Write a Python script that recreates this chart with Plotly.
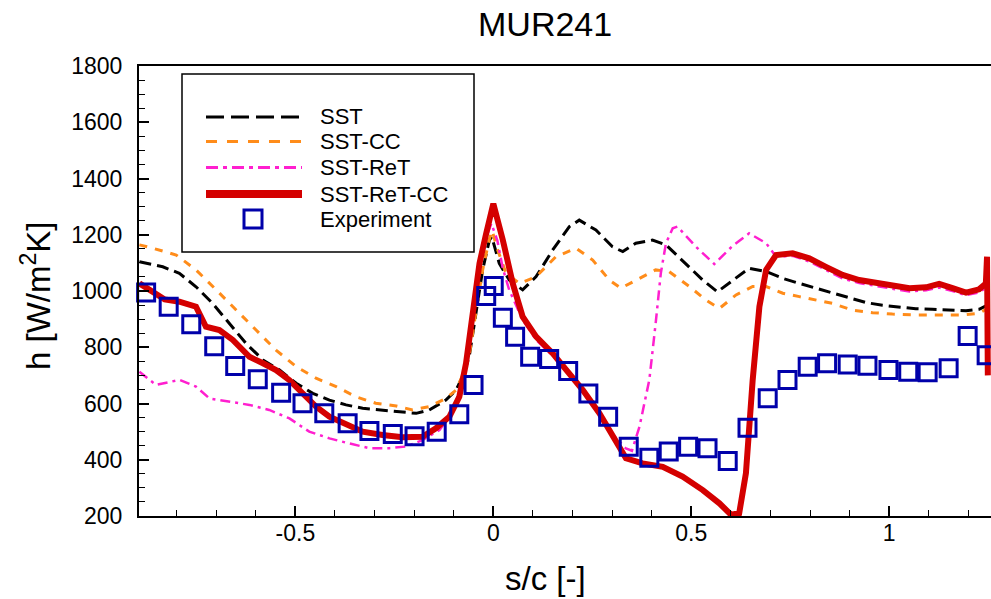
import plotly.graph_objects as go

# ---- data: heat transfer coefficient along the blade surface ----
sst_x = [-0.894, -0.835, -0.793, -0.751, -0.709, -0.667, -0.625, -0.582, -0.540, -0.498,
         -0.456, -0.414, -0.372, -0.330, -0.288, -0.245, -0.195, -0.162, -0.120, -0.094,
         -0.078, -0.061, -0.044, -0.027, -0.010, -0.004, 0.015, 0.040, 0.074, 0.108,
         0.150, 0.192, 0.217, 0.259, 0.301, 0.327, 0.360, 0.402, 0.436, 0.486,
         0.529, 0.566, 0.604, 0.646, 0.689, 0.731, 0.773, 0.815, 0.857, 0.899,
         0.941, 0.983, 1.025, 1.067, 1.109, 1.152, 1.194, 1.227, 1.248]
sst_y = [1104, 1086, 1063, 1015, 956, 885, 814, 755, 719, 672,
         636, 612, 595, 583, 577, 571, 565, 577, 612, 648,
         695, 766, 921, 1075, 1181, 1193, 1098, 1039, 1004, 1051,
         1146, 1229, 1252, 1217, 1157, 1140, 1170, 1181, 1164, 1098,
         1039, 997, 1036, 1081, 1069, 1045, 1027, 1010, 992, 974,
         959, 949, 942, 937, 935, 932, 930, 935, 950]

sstcc_x = [-0.894, -0.860, -0.801, -0.751, -0.700, -0.650, -0.599, -0.549, -0.498, -0.448,
           -0.397, -0.347, -0.297, -0.245, -0.204, -0.162, -0.120, -0.094, -0.078, -0.061,
           -0.044, -0.027, -0.010, -0.003, 0.010, 0.032, 0.066, 0.108, 0.158, 0.209,
           0.251, 0.293, 0.322, 0.360, 0.410, 0.444, 0.495, 0.537, 0.571, 0.613,
           0.655, 0.689, 0.731, 0.773, 0.815, 0.857, 0.907, 0.958, 1.008, 1.067,
           1.126, 1.185, 1.227, 1.248]
sstcc_y = [1164, 1152, 1128, 1075, 1004, 932, 861, 790, 731, 690,
           660, 624, 601, 591, 577, 589, 618, 648, 700, 770,
           925, 1075, 1185, 1215, 1150, 1063, 1027, 1051, 1122, 1152,
           1110, 1039, 1010, 1039, 1075, 1069, 1016, 968, 938, 986,
           1016, 1016, 992, 980, 968, 956, 932, 923, 918, 915,
           915, 915, 921, 938]

sstret_x = [-0.894, -0.852, -0.793, -0.751, -0.717, -0.667, -0.616, -0.566, -0.515, -0.465,
            -0.414, -0.364, -0.313, -0.263, -0.220, -0.179, -0.136, -0.111, -0.090, -0.069,
            -0.052, -0.035, -0.018, -0.005, 0.010, 0.024, 0.040, 0.074, 0.108, 0.150,
            0.184, 0.226, 0.268, 0.301, 0.335, 0.350, 0.369, 0.394, 0.410, 0.423,
            0.436, 0.453, 0.465, 0.512, 0.558, 0.604, 0.646, 0.689, 0.714, 0.756,
            0.798, 0.840, 0.882, 0.924, 0.966, 1.008, 1.051, 1.093, 1.126, 1.160,
            1.194, 1.227, 1.248]
sstret_y = [713, 666, 684, 660, 618, 606, 595, 577, 547, 500,
            476, 458, 441, 441, 447, 470, 506, 553, 624, 740,
            910, 1080, 1190, 1240, 1180, 1080, 1004, 897, 826, 770,
            715, 645, 562, 490, 440, 432, 517, 684, 885, 1063,
            1170, 1223, 1229, 1157, 1096, 1160, 1205, 1170, 1122, 1125,
            1105, 1075, 1045, 1028, 1018, 1010, 998, 1003, 1012, 1000,
            985, 995, 1015]

sstretcc_x = [-0.894, -0.860, -0.830, -0.793, -0.751, -0.726, -0.692, -0.658, -0.616, -0.582,
              -0.549, -0.515, -0.482, -0.448, -0.414, -0.372, -0.330, -0.280, -0.229, -0.179,
              -0.145, -0.111, -0.086, -0.069, -0.052, -0.035, -0.018, 0.000, 0.024, 0.049,
              0.074, 0.108, 0.150, 0.184, 0.226, 0.268, 0.301, 0.335, 0.377, 0.428,
              0.478, 0.529, 0.571, 0.600, 0.621, 0.638, 0.655, 0.672, 0.689, 0.714,
              0.756, 0.798, 0.840, 0.882, 0.924, 0.966, 1.008, 1.051, 1.093, 1.126,
              1.160, 1.194, 1.227, 1.244, 1.247, 1.249]
sstretcc_y = [1027, 997, 970, 962, 944, 873, 861, 826, 766, 743,
              719, 683, 636, 589, 553, 524, 500, 488, 480, 482,
              512, 553, 624, 743, 921, 1098, 1205, 1310, 1181, 1027,
              909, 838, 778, 719, 648, 565, 482, 405, 387, 375,
              340, 292, 245, 205, 210, 352, 683, 944, 1075, 1128,
              1134, 1116, 1086, 1057, 1039, 1030, 1021, 1010, 1013, 1025,
              1010, 994, 1006, 1027, 1122, 700]

exp_x = [-0.877, -0.820, -0.763, -0.705, -0.652, -0.595, -0.536, -0.482, -0.427, -0.368,
         -0.313, -0.254, -0.199, -0.143, -0.086, -0.050, -0.018, 0.001, 0.024, 0.055,
         0.093, 0.141, 0.189, 0.240, 0.290, 0.342, 0.394, 0.443, 0.492, 0.541,
         0.592, 0.642, 0.693, 0.743, 0.794, 0.843, 0.895, 0.945, 0.998, 1.048,
         1.097, 1.150, 1.198, 1.246]
exp_y = [995, 944, 882, 804, 733, 686, 638, 601, 565, 530,
         502, 492, 484, 500, 562, 666, 982, 1018, 905, 837,
         766, 758, 716, 636, 553, 446, 407, 429, 446, 441,
         396, 514, 619, 684, 731, 743, 739, 734, 719, 713,
         711, 725, 840, 772]

series_names = ["SST", "SST-CC", "SST-ReT", "SST-ReT-CC", "Experiment"]
x_tickvals = [-0.5, 0, 0.5, 1]
x_ticktext = ["-0.5", "0", "0.5", "1"]
y_tickvals = [200, 400, 600, 800, 1000, 1200, 1400, 1600, 1800]

# ---- styles ----
FONT = "Liberation Sans, Arial, sans-serif"
C_SST = "#000000"
C_CC = "#ff8c1a"
C_RET = "#ff1fcf"
C_RETCC = "#d40000"
C_EXP = "#0000aa"
DASH_SST = "12px,6px"
DASH_CC = "8px,8px"
DASH_RET = "10px,5px,3px,5px"

fig = go.Figure()
fig.add_trace(go.Scatter(x=sst_x, y=sst_y, mode="lines", name=series_names[0],
                         line=dict(color=C_SST, width=3, dash=DASH_SST)))
fig.add_trace(go.Scatter(x=sstcc_x, y=sstcc_y, mode="lines", name=series_names[1],
                         line=dict(color=C_CC, width=3, dash=DASH_CC)))
fig.add_trace(go.Scatter(x=sstret_x, y=sstret_y, mode="lines", name=series_names[2],
                         line=dict(color=C_RET, width=2.5, dash=DASH_RET)))
fig.add_trace(go.Scatter(x=sstretcc_x, y=sstretcc_y, mode="lines", name=series_names[3],
                         line=dict(color=C_RETCC, width=6)))
fig.add_trace(go.Scatter(x=exp_x, y=exp_y, mode="markers", name=series_names[4],
                         cliponaxis=False,
                         marker=dict(symbol="square-open", size=17, color=C_EXP,
                                     line=dict(width=3, color=C_EXP))))

# plot area geometry (pixels)
W, H = 991, 599
L, T, B, R = 139, 66, 83, 0
PW, PH = W - L - R, H - T - B


def px(xp):
    return (xp - L) / PW


def py(yp):
    return (H - B - yp) / PH


fig.update_layout(
    width=W, height=H,
    margin=dict(l=L, r=R, t=T, b=B, pad=0),
    paper_bgcolor="white", plot_bgcolor="white",
    showlegend=False,
    font=dict(family=FONT, color="black"),
)

fig.update_xaxes(
    range=[-0.895, 1.257], showgrid=False, zeroline=False,
    showline=True, linecolor="black", linewidth=2, mirror=True,
    tickmode="array", tickvals=x_tickvals, ticktext=x_ticktext,
    ticks="inside", ticklen=10, tickwidth=1.5, tickcolor="black",
    minor=dict(dtick=0.1, tick0=0, ticks="inside", ticklen=6, tickwidth=1, tickcolor="black"),
    tickfont=dict(size=23, family=FONT), ticklabelstandoff=-5,
)
fig.update_yaxes(
    range=[200, 1800], showgrid=False, zeroline=False,
    showline=True, linecolor="black", linewidth=2,
    tickmode="array", tickvals=y_tickvals,
    ticks="inside", ticklen=10, tickwidth=1.5, tickcolor="black",
    minor=dict(dtick=50, tick0=0, ticks="inside", ticklen=6, tickwidth=1, tickcolor="black"),
    tickfont=dict(size=23, family=FONT), ticklabelstandoff=10,
)

annotations = [
    dict(text="MUR241", x=px(545), y=py(24), xref="paper", yref="paper",
         showarrow=False, xanchor="center", yanchor="middle", font=dict(size=34)),
    dict(text="s/c [-]", x=px(545), y=py(578), xref="paper", yref="paper",
         showarrow=False, xanchor="center", yanchor="middle", font=dict(size=33)),
    dict(text="h [W/m<sup>2</sup>K]", x=px(36), y=py(296), xref="paper", yref="paper",
         showarrow=False, xanchor="center", yanchor="middle", textangle=-90,
         font=dict(size=33)),
]

# legend box
shapes = [dict(type="rect", xref="paper", yref="paper",
               x0=px(182), x1=px(474), y0=py(252), y1=py(74),
               line=dict(color="black", width=1.5), fillcolor="white", layer="above")]

legend_rows = [117, 141.5, 167.5, 194, 219]
legend_styles = [
    dict(color=C_SST, width=3, dash="18px,7px"),
    dict(color=C_CC, width=3, dash="11px,10px"),
    dict(color=C_RET, width=3, dash="12px,5px,4px,5px"),
    dict(color=C_RETCC, width=8),
]
for yrow, style in zip(legend_rows[:4], legend_styles):
    shapes.append(dict(type="line", xref="paper", yref="paper",
                       x0=px(206), x1=px(302), y0=py(yrow), y1=py(yrow),
                       line=style, layer="above"))
shapes.append(dict(type="rect", xref="paper", yref="paper",
                   xsizemode="pixel", ysizemode="pixel",
                   xanchor=px(253), yanchor=py(legend_rows[4]),
                   x0=-9, x1=9, y0=-9, y1=9,
                   line=dict(color=C_EXP, width=3), layer="above"))
for yrow, name in zip(legend_rows, series_names):
    annotations.append(dict(text=name, x=px(318), y=py(yrow), xref="paper", yref="paper",
                            showarrow=False, xanchor="left", yanchor="middle",
                            font=dict(size=22)))

fig.update_layout(shapes=shapes, annotations=annotations)

fig.write_html("out.html")
